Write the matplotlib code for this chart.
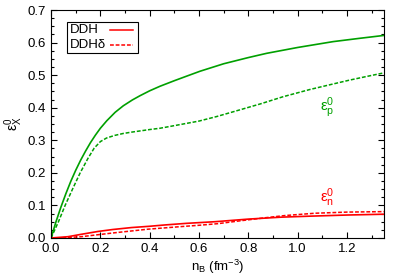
import numpy as np
import matplotlib as mpl
import matplotlib.pyplot as plt
from matplotlib.ticker import MultipleLocator, FormatStrFormatter
from matplotlib.patches import Rectangle

mpl.rcParams['font.family'] = ['Liberation Sans', 'DejaVu Sans']
mpl.rcParams['mathtext.fontset'] = 'custom'
mpl.rcParams['mathtext.rm'] = 'Liberation Sans'
mpl.rcParams['mathtext.it'] = 'Liberation Sans'

# 从图上读出来的数据点
nb_p_ddh = [0.0, 0.02, 0.04, 0.06, 0.08, 0.10, 0.12, 0.14, 0.16, 0.18, 0.20, 0.226, 0.26,
            0.293, 0.33, 0.361, 0.40, 0.442, 0.50, 0.55, 0.604, 0.70, 0.80, 0.874, 1.0,
            1.144, 1.25, 1.35]
ep_ddh = [0.0, 0.05, 0.095, 0.136, 0.174, 0.208, 0.239, 0.267, 0.293, 0.316, 0.337, 0.360,
          0.386, 0.406, 0.424, 0.437, 0.452, 0.466, 0.483, 0.497, 0.512, 0.535, 0.554, 0.567,
          0.585, 0.603, 0.613, 0.622]

nb_p_del = [0.0, 0.03, 0.057, 0.087, 0.118, 0.15, 0.175, 0.20, 0.225, 0.258, 0.293, 0.326,
            0.40, 0.442, 0.50, 0.60, 0.672, 0.75, 0.85, 0.942, 1.05, 1.15, 1.212, 1.28, 1.35]
ep_del = [0.0, 0.05, 0.10, 0.15, 0.20, 0.245, 0.276, 0.296, 0.307, 0.315, 0.321, 0.325,
          0.333, 0.337, 0.345, 0.359, 0.373, 0.390, 0.412, 0.434, 0.456, 0.474, 0.485,
          0.496, 0.507]

nb_n_ddh = [0.0, 0.069, 0.12, 0.19, 0.25, 0.326, 0.40, 0.461, 0.55, 0.665, 0.80, 0.935,
            1.05, 1.2, 1.35]
en_ddh = [0.0, 0.004, 0.011, 0.020, 0.026, 0.032, 0.036, 0.040, 0.045, 0.050, 0.058, 0.064,
          0.067, 0.0705, 0.073]

nb_n_del = [0.0, 0.06, 0.123, 0.19, 0.258, 0.393, 0.528, 0.60, 0.677, 0.77, 0.867, 0.95,
            1.07, 1.2, 1.35]
en_del = [0.0, 0.001, 0.004, 0.010, 0.016, 0.027, 0.035, 0.039, 0.044, 0.053, 0.062, 0.069,
          0.076, 0.0795, 0.081]

green = '#00a000'
red = '#ff0000'
dash = (2.5, 1.2)

fig = plt.figure(figsize=(3.99, 2.79), dpi=100)
ax = fig.add_axes([0.128, 0.147, 0.834, 0.817])

ax.plot(nb_p_ddh, ep_ddh, color=green, lw=1.2)
ax.plot(nb_p_del, ep_del, color=green, lw=1.1, dashes=dash)
ax.plot(nb_n_ddh, en_ddh, color=red, lw=1.2)
ax.plot(nb_n_del, en_del, color=red, lw=1.1, dashes=dash)

ax.set_xlim(0, 1.35)
ax.set_ylim(0, 0.7)
ax.xaxis.set_major_locator(MultipleLocator(0.2))
ax.xaxis.set_minor_locator(MultipleLocator(0.1))
ax.yaxis.set_major_locator(MultipleLocator(0.1))
ax.yaxis.set_minor_locator(MultipleLocator(0.025))
ax.xaxis.set_major_formatter(FormatStrFormatter('%.1f'))
ax.yaxis.set_major_formatter(FormatStrFormatter('%.1f'))
ax.tick_params(which='both', direction='in', top=True, right=True, labelsize=9.5)
ax.tick_params(which='major', length=4.5, width=0.8)
ax.tick_params(which='minor', length=2.5, width=0.8)

ax.set_xlabel(r'n$_\mathregular{B}$ (fm$^\mathregular{-3}$)', fontsize=9.5, labelpad=2)
ax.set_ylabel(r'$\mathregular{ε^0_X}$', fontsize=10, labelpad=2)

ax.text(1.12, 0.40, r'$\mathregular{ε^0_p}$', color=green, fontsize=11, ha='center', va='center')
ax.text(1.12, 0.125, r'$\mathregular{ε^0_n}$', color=red, fontsize=11, ha='center', va='center')

# 图例手动画：文字左对齐，线在右边（gnuplot 风格）
ax.add_patch(Rectangle((0.048, 0.811), 0.213, 0.136, transform=ax.transAxes,
                       facecolor='white', edgecolor='black', lw=0.8, zorder=5))
leg_labels = ['DDH', 'DDHδ']
leg_y = [0.912, 0.846]
for lab, yy, ls in zip(leg_labels, leg_y, ['solid', 'dashed']):
    ax.text(0.058, yy, lab, transform=ax.transAxes, fontsize=9.5, va='center', ha='left', zorder=6)
    ln, = ax.plot([0.177, 0.246], [yy, yy], transform=ax.transAxes, color=red, lw=1.1, zorder=6)
    if ls == 'dashed':
        ln.set_dashes(dash)

fig.savefig('out.png', dpi=100)
